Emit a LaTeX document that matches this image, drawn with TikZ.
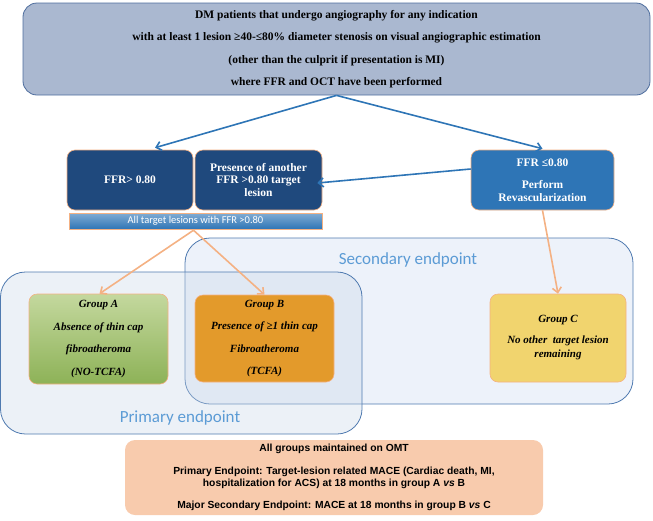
\documentclass[tikz,border=0pt]{standalone}
\usepackage{fontspec}
\setmainfont{Liberation Serif}
\newfontfamily\carlito{Carlito}
\newfontfamily\arialf{Liberation Sans}
\usetikzlibrary{arrows.meta,calc}
\definecolor{topfill}{HTML}{AAB8D0}
\definecolor{topdraw}{HTML}{4F6E9E}
\definecolor{navy}{HTML}{1F497D}
\definecolor{midblue}{HTML}{2E75B6}
\definecolor{lightorange}{HTML}{F4B183}
\definecolor{arrowblue}{HTML}{2E75B6}
\definecolor{grpAtop}{HTML}{C4D89E}
\definecolor{grpAbot}{HTML}{8DB257}
\definecolor{grpB}{HTML}{E39A2B}
\definecolor{grpC}{HTML}{F1D46E}
\definecolor{peach}{HTML}{F8CBAD}
\definecolor{regfill}{HTML}{EDF2FA}
\definecolor{regdraw}{HTML}{4F7AB0}
\definecolor{lbltext}{HTML}{5B9BD5}
\tikzset{
  box/.style={draw=lightorange, line width=0.6pt, rounded corners=8pt, inner sep=0pt, align=center},
  darkbox/.style={box, fill=navy, text=white, font=\bfseries\fontsize{11.5}{12.5}\selectfont},
  grpbox/.style={box, font=\bfseries\itshape\fontsize{11}{22.5}\selectfont},
  bluearrow/.style={draw=arrowblue, line width=1.6pt, -{Straight Barb[length=5pt,width=9pt]}},
  orangearrow/.style={draw=lightorange, line width=1.6pt, -{Straight Barb[length=5pt,width=9pt]}},
  region/.style={draw=regdraw, line width=0.8pt, rounded corners=25pt},
  endlabel/.style={text=lbltext, font=\carlito\fontsize{17}{20}\selectfont, inner sep=0pt}
}
\begin{document}
\begin{tikzpicture}[x=1pt,y=-1pt]
\useasboundingbox (0,0) rectangle (653,520);
% regions
\draw[region, fill=regfill] (185,238) rectangle (633,404);
\draw[region, fill=regdraw!30, fill opacity=0.35] (0.5,272) rectangle (362,434);
\node[endlabel] (seclbl) at (408,260) {Secondary endpoint};
\node[endlabel] (primlbl) at (180,418) {Primary endpoint};
% top box
\node[draw=topdraw, fill=topfill, line width=0.8pt, rounded corners=14pt, minimum width=627pt, minimum height=92pt, inner sep=0pt, align=center, font=\bfseries\fontsize{11.5}{22.4}\selectfont] (top) at (336.5,49)
 {DM patients that undergo angiography for any indication\\
  with at least 1 lesion ≥40-≤80\% diameter stenosis on visual angiographic estimation\\
  (other than the culprit if presentation is MI)\\
  where FFR and OCT have been performed};
% second row
\node[darkbox, minimum width=126pt, minimum height=60pt] (ffrhi) at (130,180) {FFR> 0.80};
\node[darkbox, minimum width=127pt, minimum height=60pt] (pres) at (258.5,180) {Presence of another\\FFR >0.80 target\\lesion};
\node[darkbox, fill=midblue, minimum width=143pt, minimum height=60pt] (ffrle) at (542.5,180) {FFR ≤0.80\\[9.5pt]Perform\\Revascularization};
\node[draw=lightorange, line width=0.5pt, top color=midblue!60!white, bottom color=midblue, minimum width=253pt, minimum height=16pt, inner sep=0pt, text=white, font=\carlito\fontsize{10.5}{12}\selectfont] (band) at (195.5,221) {All target lesions with FFR >0.80};
% groups
\node[grpbox, top color=grpAtop, bottom color=grpAbot, minimum width=139pt, minimum height=90pt] (ga) at (98.5,339) {Group A\\Absence of thin cap\\fibroatheroma\\(NO-TCFA)};
\node[grpbox, fill=grpB, minimum width=139pt, minimum height=87pt] (gb) at (264.5,338.5) {Group B\\Presence of ≥1 thin cap\\Fibroatheroma\\(TCFA)};
\node[grpbox, fill=grpC, minimum width=136pt, minimum height=88pt, font=\bfseries\itshape\fontsize{11}{14}\selectfont] (gc) at (558,338) {Group C\\[7pt]No other~ target lesion\\remaining};
% bottom box
\node[fill=peach, rounded corners=10pt, minimum width=418pt, minimum height=75pt, inner sep=0pt, align=center, font=\arialf\bfseries\fontsize{10.3}{12}\selectfont] (bot) at (334,477.5)
 {All groups maintained on OMT\\[11pt]
  Primary Endpoint: Target-lesion related MACE (Cardiac death, MI,\\
  hospitalization for ACS) at 18 months in group A \textit{vs} B\\[10pt]
  Major Secondary Endpoint: MACE at 18 months in group B \textit{vs} C};
% arrows
\draw[bluearrow] (top.south) -- ($(ffrhi.north)+(25,-2)$);
\draw[bluearrow] (top.south) -- ($(ffrle.north)+(0,-1)$);
\draw[bluearrow] ($(ffrle.west)+(0,-11)$) -- ($(pres.east)+(-5,3)$);
\draw[orangearrow] ($(band.south)+(-2,1)$) -- ($(ga.north)+(1,0)$);
\draw[orangearrow] ($(band.south)+(-2,1)$) -- (gb.north);
\draw[orangearrow] (ffrle.south) -- (gc.north);
\end{tikzpicture}
\end{document}
